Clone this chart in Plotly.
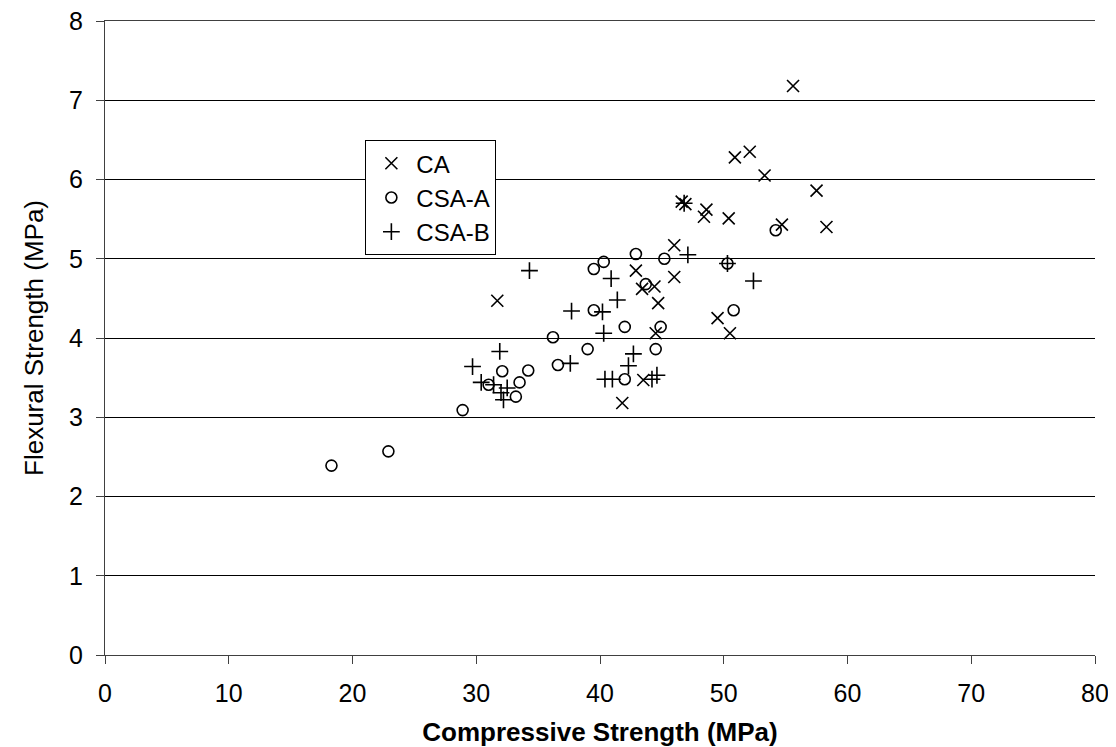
import plotly.graph_objects as go

# Compressive strength (MPa) vs flexural strength (MPa)
ca_x = [55.6, 50.9, 52.1, 53.3, 57.5, 46.6, 46.9, 48.6, 48.4, 50.4, 54.7, 58.3,
        46.0, 42.9, 46.0, 43.4, 44.4, 31.7, 44.7, 49.5, 44.5, 50.5, 43.5, 41.8]
ca_y = [7.18, 6.28, 6.35, 6.05, 5.86, 5.72, 5.69, 5.62, 5.53, 5.51, 5.43, 5.40,
        5.17, 4.85, 4.77, 4.62, 4.65, 4.47, 4.44, 4.25, 4.06, 4.06, 3.47, 3.18]

csa_a_x = [54.2, 50.3, 42.9, 45.2, 40.3, 39.5, 43.7, 39.5, 50.8, 42.0, 44.9, 36.2,
           39.0, 44.5, 36.6, 34.2, 32.1, 33.5, 31.0, 33.2, 42.0, 28.9, 22.9, 18.3]
csa_a_y = [5.36, 4.94, 5.06, 5.00, 4.96, 4.87, 4.68, 4.35, 4.35, 4.14, 4.14, 4.01,
           3.86, 3.86, 3.66, 3.59, 3.58, 3.44, 3.41, 3.26, 3.48, 3.09, 2.57, 2.39]

csa_b_x = [46.8, 47.1, 34.3, 50.3, 40.9, 52.4, 41.4, 37.7, 40.2, 40.3, 31.9, 42.7,
           29.7, 37.6, 42.3, 30.4, 31.4, 32.5, 32.0, 32.2, 40.4, 41.0, 44.2, 44.6]
csa_b_y = [5.70, 5.05, 4.85, 4.94, 4.75, 4.72, 4.48, 4.34, 4.33, 4.06, 3.83, 3.80,
           3.64, 3.68, 3.65, 3.44, 3.41, 3.37, 3.31, 3.22, 3.48, 3.48, 3.48, 3.53]

font = "Liberation Sans, Arial, sans-serif"

fig = go.Figure()
fig.add_trace(go.Scatter(x=ca_x, y=ca_y, mode="markers", name="CA",
                         marker=dict(symbol="x-thin-open", size=12, color="black",
                                     line=dict(width=1.6, color="black"))))
fig.add_trace(go.Scatter(x=csa_a_x, y=csa_a_y, mode="markers", name="CSA-A",
                         marker=dict(symbol="circle-open", size=11, color="black",
                                     line=dict(width=1.6, color="black"))))
fig.add_trace(go.Scatter(x=csa_b_x, y=csa_b_y, mode="markers", name="CSA-B",
                         marker=dict(symbol="cross-thin-open", size=12, color="black",
                                     line=dict(width=1.6, color="black"))))

# page body has an 8px margin, so the figure is shifted by 8px
fig.update_layout(
    width=1108, height=739,
    margin=dict(l=97, r=21, t=13, b=92),
    paper_bgcolor="white", plot_bgcolor="white",
    font=dict(family=font, size=25, color="black"),
    legend=dict(x=0.263, y=0.812, xanchor="left", yanchor="top",
                bgcolor="white", bordercolor="black", borderwidth=1,
                font=dict(size=24), tracegroupgap=2, itemwidth=40,
                entrywidth=115),
)
fig.update_xaxes(range=[0, 80], dtick=10, showgrid=False, zeroline=False,
                 showline=True, linecolor="#404040", linewidth=1, mirror=True,
                 ticks="outside", ticklen=8, tickcolor="#404040",
                 tickfont=dict(size=25), ticklabelstandoff=8, automargin=False,
                 ticklabeloverflow="allow",
                 title=dict(text="<b>Compressive Strength (MPa)</b>", standoff=20,
                            font=dict(size=26)))
fig.update_yaxes(range=[0, 8], dtick=1, showgrid=True, gridcolor="black", gridwidth=1,
                 zeroline=False, showline=True, linecolor="#404040", linewidth=1,
                 ticks="outside", ticklen=8, tickcolor="#404040",
                 tickfont=dict(size=25), ticklabelstandoff=8, automargin=False,
                 ticklabeloverflow="allow",
                 title=dict(text="Flexural Strength (MPa)", standoff=17,
                            font=dict(size=26)))

fig.write_html("out.html")
